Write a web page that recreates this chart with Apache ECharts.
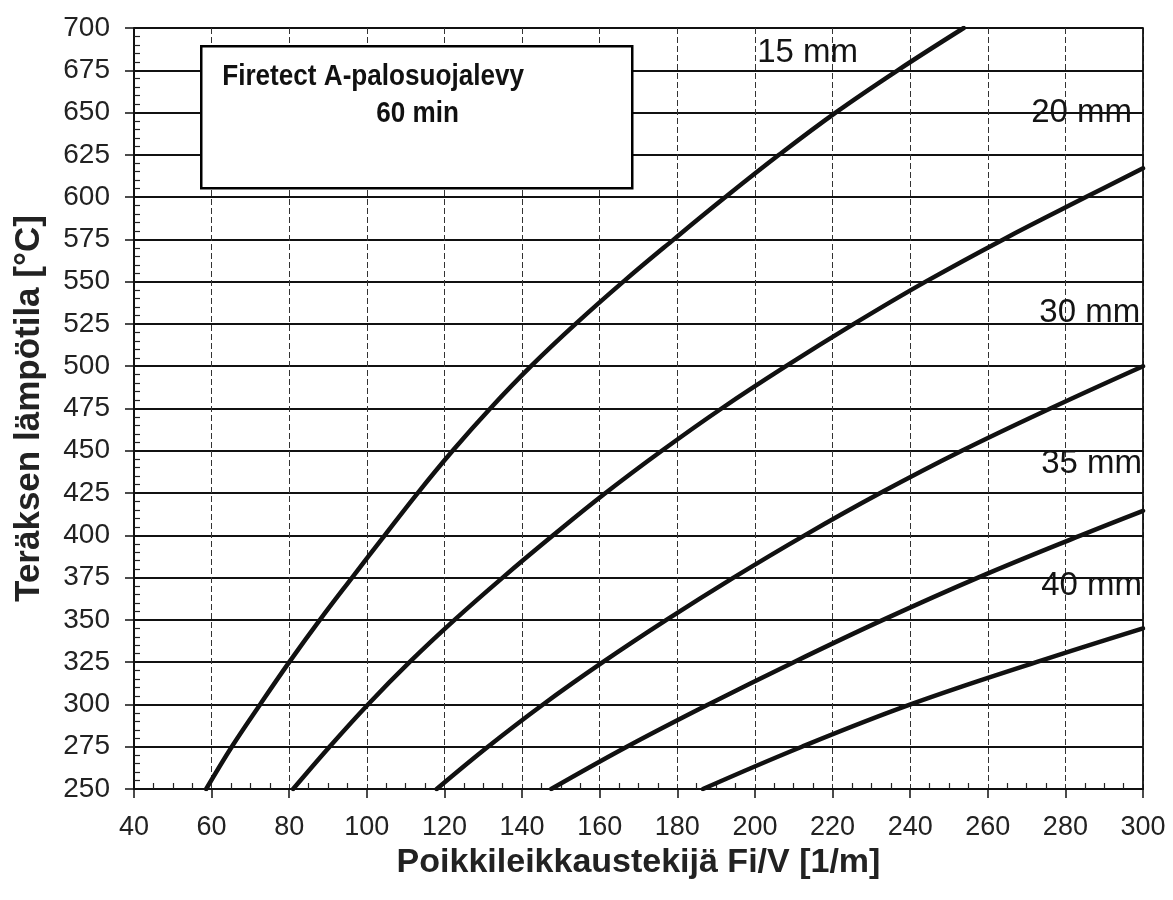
<!DOCTYPE html>
<html>
<head>
<meta charset="utf-8">
<script src="https://cdn.jsdelivr.net/npm/echarts@6/dist/echarts.min.js"></script>
<style>
html,body{margin:0;padding:0;background:#fff;}
#chart{width:1173px;height:900px;}
</style>
</head>
<body>
<div id="chart"></div>
<script>
// ---- data ----
const xTickLabels = [40, 60, 80, 100, 120, 140, 160, 180, 200, 220, 240, 260, 280, 300];
const yTickLabels = [250, 275, 300, 325, 350, 375, 400, 425, 450, 475, 500, 525, 550, 575, 600, 625, 650, 675, 700];

const curveNames = ['15 mm', '20 mm', '30 mm', '35 mm', '40 mm'];

const curve15 = [[58.6,250],[65.2,275],[72.5,300],[80,325],[87.9,350],[96.2,375],[104.6,400],[113.1,425],[122.1,450],[131.8,475],[142.3,500],[153.8,525],[166.1,550],[179.1,575],[192.4,600],[206.2,625],[220.8,650],[236.8,675],[253.8,700]];
const curve20 = [[81,250],[90.4,275],[100.3,300],[111,325],[122.6,350],[135,375],[148,400],[161.5,425],[176,450],[191.4,475],[208,500],[225.5,525],[244,550],[264,575],[285.3,600],[300,617]];
const curve30 = [[118,250],[131.2,275],[145.4,300],[160.8,325],[177.2,350],[194.5,375],[212.8,400],[232.3,425],[253.3,450],[276.1,475],[300,500]];
const curve35 = [[147.5,250],[167,275],[188,300],[210,325],[233,350],[257.5,375],[284,400],[300,414.5]];
const curve40 = [[186.6,250],[212.1,275],[240.1,300],[272.5,325],[300,345]];

// label anchor points (data space) for the curve names
const curveLabelPoints = [[213.7,685],[284.3,649.5],[286.4,531.5],[286.9,442],[286.9,370]];

const boxTitle = 'Firetect A-palosuojalevy';
const boxSubtitle = '60 min';
const xAxisTitle = 'Poikkileikkaustekijä Fi/V [1/m]';
const yAxisTitle = 'Teräksen lämpötila [°C]';

// ---- chart ----
const chart = echarts.init(document.getElementById('chart'), null, {renderer: 'canvas'});
const curves = [curve15, curve20, curve30, curve35, curve40];
const FONT = 'Liberation Sans, Arial, sans-serif';

const lineSeries = curves.map((d, i) => ({
  name: curveNames[i],
  type: 'line',
  data: d,
  smooth: 0.4,
  showSymbol: false,
  symbol: 'none',
  clip: true,
  lineStyle: {color: '#111', width: 4.5, cap: 'round'},
  z: 5
}));

const labelSeries = {
  type: 'scatter',
  symbolSize: 1,
  itemStyle: {color: 'rgba(0,0,0,0)'},
  data: curveLabelPoints.map((p, i) => ({value: p, name: curveNames[i]})),
  label: {
    show: true,
    position: [0, 0],
    align: 'center',
    verticalAlign: 'middle',
    formatter: p => p.name,
    fontFamily: FONT,
    fontSize: 33,
    color: '#141414',
    textBorderWidth: 0,
    opacity: 1
  },
  z: 6,
  silent: true
};

chart.setOption({
  backgroundColor: '#fff',
  animation: false,
  grid: {left: 134, right: 30, top: 28, bottom: 111, containLabel: false},
  xAxis: {
    type: 'value',
    min: 40, max: 300, interval: 20,
    name: xAxisTitle,
    nameLocation: 'middle',
    nameGap: 55,
    nameTextStyle: {fontFamily: FONT, fontWeight: 'bold', fontSize: 34, color: '#222'},
    axisLine: {show: true, lineStyle: {color: '#111', width: 2}},
    axisTick: {show: true, length: 9, lineStyle: {color: '#111', width: 1.5}},
    minorTick: {show: true, splitNumber: 4, length: -6, lineStyle: {color: '#222', width: 1.2}},
    axisLabel: {
      margin: 25,
      fontFamily: FONT, fontSize: 27, color: '#222',
      formatter: v => xTickLabels.includes(v) ? String(v) : ''
    },
    splitLine: {show: true, lineStyle: {color: '#333', width: 1, type: [6, 3]}}
  },
  yAxis: [{
    type: 'value',
    min: 250, max: 700, interval: 25,
    name: yAxisTitle,
    nameLocation: 'middle',
    nameGap: 87,
    nameRotate: 90,
    nameTextStyle: {fontFamily: FONT, fontWeight: 'bold', fontSize: 35, color: '#222'},
    axisLine: {show: true, lineStyle: {color: '#111', width: 2}},
    axisTick: {show: true, length: 9, lineStyle: {color: '#111', width: 1.5}},
    minorTick: {show: true, splitNumber: 5, length: -6, lineStyle: {color: '#222', width: 1.2}},
    axisLabel: {
      margin: 24,
      fontFamily: FONT, fontSize: 28, color: '#222',
      formatter: v => yTickLabels.includes(v) ? String(v) : ''
    },
    splitLine: {show: true, lineStyle: {color: '#111', width: 1.8}}
  }, {
    type: 'value',
    position: 'right',
    min: 250, max: 700, interval: 25,
    axisLine: {show: true, lineStyle: {color: '#111', width: 1.8}},
    axisTick: {show: false},
    axisLabel: {show: false},
    splitLine: {show: false}
  }],
  graphic: [{
    type: 'group',
    left: 200, top: 45,
    children: [
      {type: 'rect', shape: {x: 0, y: 0, width: 431, height: 142}, style: {fill: '#fff', stroke: '#000', lineWidth: 2.5}, z: 100},
      {type: 'text', x: 21, y: 15.5, scaleX: 0.87, style: {text: boxTitle, fill: '#111', font: 'bold 30px "Liberation Sans", Arial, sans-serif'}, z: 101},
      {type: 'text', x: 175, y: 52.5, scaleX: 0.87, style: {text: boxSubtitle, fill: '#111', font: 'bold 30px "Liberation Sans", Arial, sans-serif'}, z: 101}
    ]
  }],
  series: [...lineSeries, labelSeries]
});
</script>
</body>
</html>
